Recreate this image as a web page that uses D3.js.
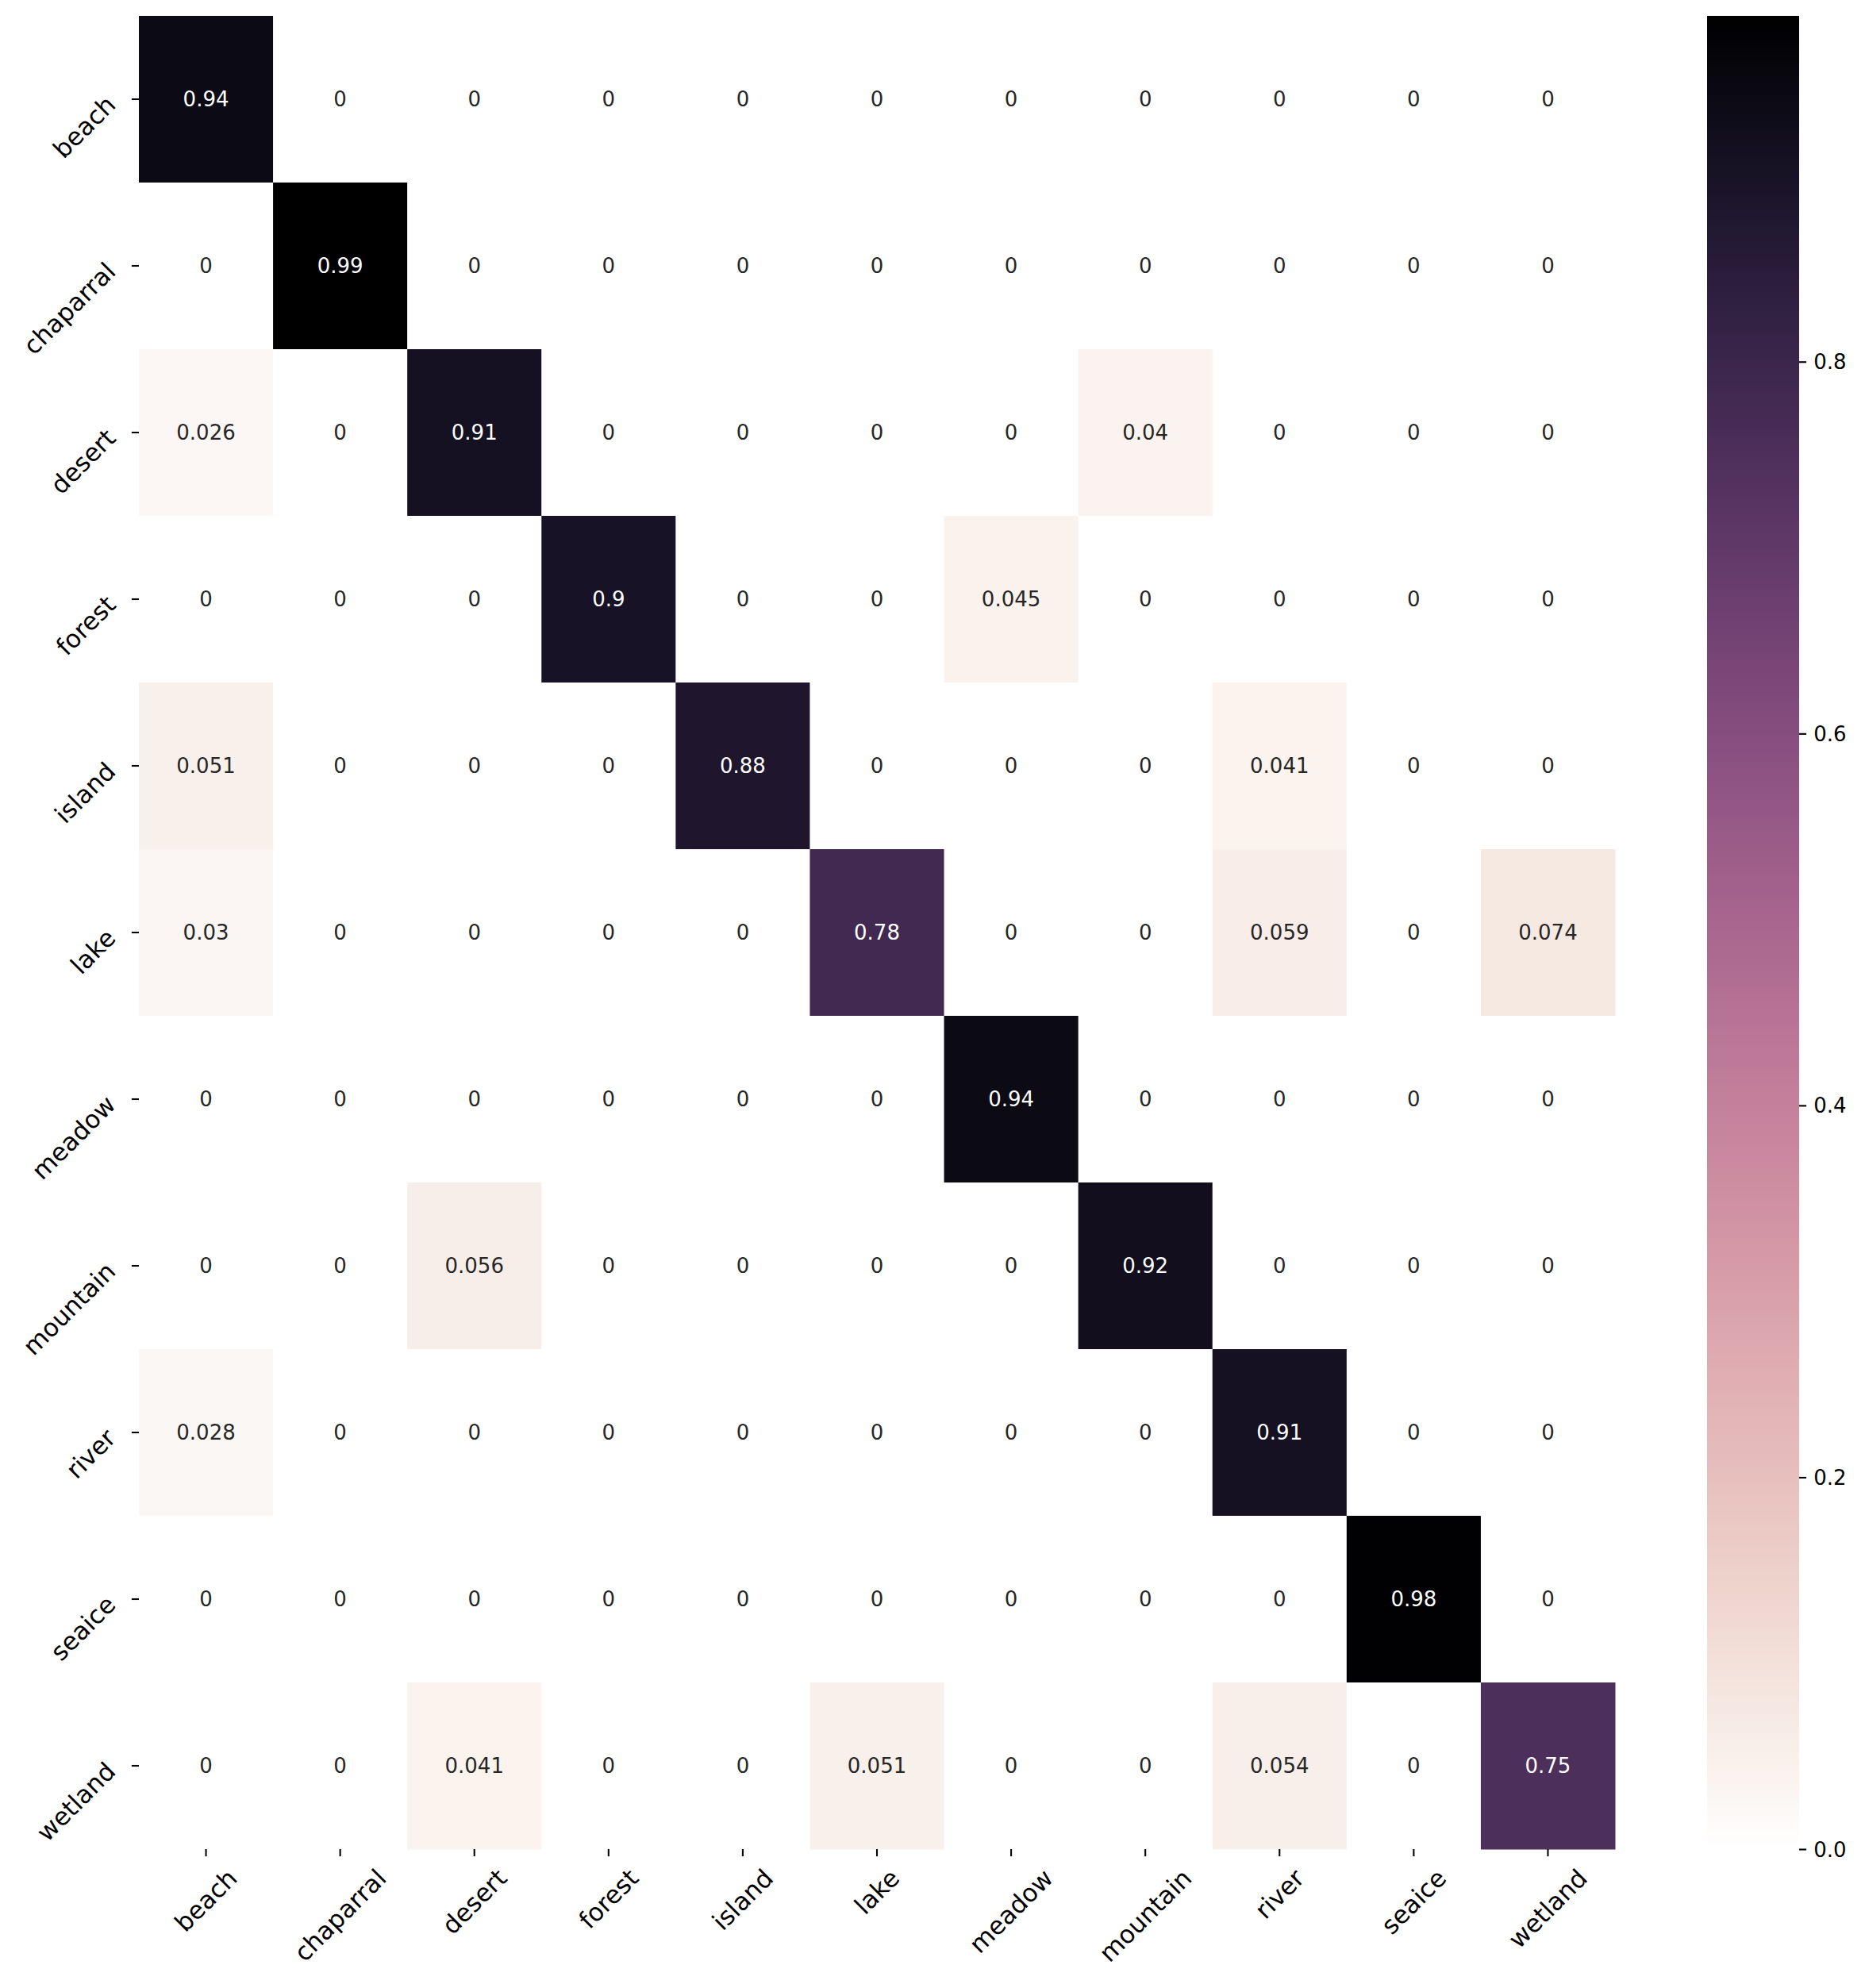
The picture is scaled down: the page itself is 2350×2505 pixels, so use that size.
<!DOCTYPE html>
<html>
<head>
<meta charset="utf-8">
<script src="https://cdn.jsdelivr.net/npm/d3@7"></script>
<style>
  html, body { margin: 0; padding: 0; background: #ffffff; }
  svg { display: block; font-family: "DejaVu Sans", sans-serif; }
</style>
</head>
<body>
<svg id="chart" width="2350" height="2505"></svg>
<script>
// ---------------- DATA ----------------
const categories = ["beach", "chaparral", "desert", "forest", "island", "lake",
                    "meadow", "mountain", "river", "seaice", "wetland"];
// rows = true class, columns = predicted class (same order as categories)
const rowBeach     = [0.94, 0, 0, 0, 0, 0, 0, 0, 0, 0, 0];
const rowChaparral = [0, 0.986, 0, 0, 0, 0, 0, 0, 0, 0, 0];
const rowDesert    = [0.026, 0, 0.91, 0, 0, 0, 0, 0.04, 0, 0, 0];
const rowForest    = [0, 0, 0, 0.9, 0, 0, 0.045, 0, 0, 0, 0];
const rowIsland    = [0.051, 0, 0, 0, 0.88, 0, 0, 0, 0.041, 0, 0];
const rowLake      = [0.03, 0, 0, 0, 0, 0.78, 0, 0, 0.059, 0, 0.074];
const rowMeadow    = [0, 0, 0, 0, 0, 0, 0.94, 0, 0, 0, 0];
const rowMountain  = [0, 0, 0.056, 0, 0, 0, 0, 0.92, 0, 0, 0];
const rowRiver     = [0.028, 0, 0, 0, 0, 0, 0, 0, 0.91, 0, 0];
const rowSeaice    = [0, 0, 0, 0, 0, 0, 0, 0, 0, 0.98, 0];
const rowWetland   = [0, 0, 0.041, 0, 0, 0.051, 0, 0, 0.054, 0, 0.75];
const colorbarTicks = [0, 0.2, 0.4, 0.6, 0.8];

const matrix = [rowBeach, rowChaparral, rowDesert, rowForest, rowIsland, rowLake,
                rowMeadow, rowMountain, rowRiver, rowSeaice, rowWetland];

// ---------------- LAYOUT ----------------
const plotLeft = 175, plotRight = 2035, plotTop = 20, plotBottom = 2330;
const cbLeft = 2151, cbRight = 2267;
const tickLen = 9.1, tickPad = 9.1;
const annFont = 26, tickFont = 31.25, cbFont = 26;

// seaborn cubehelix_palette(light=1, dark=0, as_cmap=True)
function cubehelix(xv) {
  const gamma = 1, start = 0, rot = 0.4, hue = 0.8;
  const xg = Math.pow(xv, gamma);
  const a = hue * xg * (1 - xg) / 2;
  const phi = 2 * Math.PI * (start / 3 + rot * xv);
  const c = Math.cos(phi), s = Math.sin(phi);
  const cl = v => Math.max(0, Math.min(1, v));
  const r = cl(xg + a * (-0.14861 * c + 1.78277 * s));
  const g = cl(xg + a * (-0.29227 * c - 0.90649 * s));
  const b = cl(xg + a * (1.97294 * c));
  return d3.rgb(r * 255, g * 255, b * 255);
}
const vmax = d3.max(matrix.flat());
const color = d3.scaleSequential(t => cubehelix(1 - t).formatHex()).domain([0, vmax]);

function luminance(c) {
  const rgb = d3.rgb(c);
  const f = v => { v /= 255; return v <= 0.03928 ? v / 12.92 : Math.pow((v + 0.055) / 1.055, 2.4); };
  return 0.2126 * f(rgb.r) + 0.7152 * f(rgb.g) + 0.0722 * f(rgb.b);
}

const svg = d3.select("#chart");
const xScale = d3.scaleBand().domain(categories).range([plotLeft, plotRight]);
const yScale = d3.scaleBand().domain(categories).range([plotTop, plotBottom]);
const fmt = d3.format(".2~g");

const cells = [];
matrix.forEach((row, i) => row.forEach((v, j) => cells.push({ r: categories[i], c: categories[j], v })));

svg.append("g").selectAll("rect").data(cells).join("rect")
  .attr("x", d => xScale(d.c)).attr("y", d => yScale(d.r))
  .attr("width", xScale.bandwidth() + 0.5).attr("height", yScale.bandwidth() + 0.5)
  .attr("fill", d => color(d.v));

svg.append("g").selectAll("text").data(cells).join("text")
  .attr("x", d => xScale(d.c) + xScale.bandwidth() / 2)
  .attr("y", d => yScale(d.r) + yScale.bandwidth() / 2)
  .attr("dy", "0.346em")
  .attr("text-anchor", "middle")
  .attr("font-size", annFont)
  .attr("fill", d => luminance(color(d.v)) > 0.408 ? "#262626" : "#ffffff")
  .text(d => fmt(d.v));

// ---------------- AXES ----------------
const xAxis = svg.append("g").attr("transform", `translate(0,${plotBottom})`)
  .call(d3.axisBottom(xScale).tickSize(tickLen).tickSizeOuter(0));
xAxis.select(".domain").remove();
xAxis.selectAll(".tick line").attr("stroke", "#000").attr("stroke-width", 2.1);
xAxis.selectAll(".tick text")
  .attr("font-size", tickFont).attr("font-family", "DejaVu Sans").attr("fill", "#000")
  .attr("text-anchor", "middle").attr("x", 0).attr("y", 0).attr("dy", "0.346em")
  .each(function () {
    const L = this.getComputedTextLength();
    const H = (L + 1.164 * tickFont) / Math.SQRT2;
    d3.select(this).attr("transform", `translate(0,${tickLen + tickPad + H / 2}) rotate(-45)`);
  });

const yAxis = svg.append("g").attr("transform", `translate(${plotLeft},0)`)
  .call(d3.axisLeft(yScale).tickSize(tickLen).tickSizeOuter(0));
yAxis.select(".domain").remove();
yAxis.selectAll(".tick line").attr("stroke", "#000").attr("stroke-width", 2.1);
yAxis.selectAll(".tick text")
  .attr("font-size", tickFont).attr("font-family", "DejaVu Sans").attr("fill", "#000")
  .attr("text-anchor", "end").attr("x", 0).attr("y", 0).attr("dy", 0)
  .attr("transform", `translate(${-(tickLen + tickPad + 9.2)},9) rotate(-45)`);

// ---------------- COLORBAR ----------------
const defs = svg.append("defs");
const grad = defs.append("linearGradient").attr("id", "cbgrad")
  .attr("x1", 0).attr("y1", 1).attr("x2", 0).attr("y2", 0);
d3.range(0, 101).forEach(k => {
  const t = k / 100;
  grad.append("stop").attr("offset", t).attr("stop-color", color(t * vmax));
});
const cbScale = d3.scaleLinear().domain([0, vmax]).range([plotBottom, plotTop]);
svg.append("rect").attr("x", cbLeft).attr("y", plotTop)
  .attr("width", cbRight - cbLeft).attr("height", plotBottom - plotTop)
  .attr("fill", "url(#cbgrad)");
const cbAxis = svg.append("g").attr("transform", `translate(${cbRight},0)`)
  .call(d3.axisRight(cbScale).tickValues(colorbarTicks).tickFormat(d3.format(".1f"))
        .tickSize(tickLen).tickPadding(tickPad).tickSizeOuter(0));
cbAxis.select(".domain").remove();
cbAxis.selectAll(".tick line").attr("stroke", "#000").attr("stroke-width", 2.1);
cbAxis.selectAll(".tick text").attr("font-size", cbFont).attr("font-family", "DejaVu Sans")
  .attr("fill", "#000").attr("dy", "0.346em");
</script>
</body>
</html>
